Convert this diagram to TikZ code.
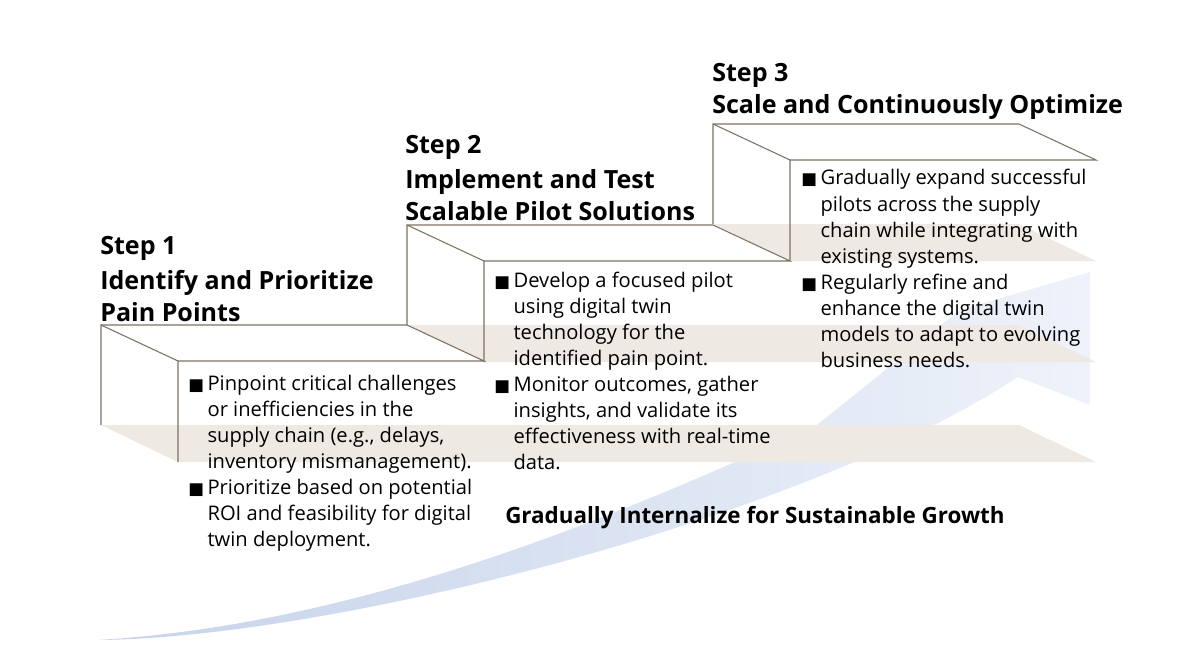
\documentclass[tikz,border=0pt]{standalone}
\usepackage{fontspec}
\setmainfont{Open Sans}
\newfontfamily\symfont{DejaVu Sans}
\usetikzlibrary{positioning}
\definecolor{edgegray}{HTML}{7D7264}
\definecolor{floorbeige}{HTML}{EEEAE3}
\definecolor{swooshdark}{HTML}{C6D3EA}
\definecolor{swooshlight}{HTML}{EEF2FA}
\newcommand{\sqbul}{\makebox[14.5pt][l]{\symfont\fontsize{12.5}{12.5}\selectfont ■}}
\newcommand{\sqind}{\hspace*{14.5pt}}
\tikzset{
  steptitle/.style={anchor=base west, inner sep=0pt, font=\bfseries\fontsize{18.8}{24}\selectfont},
  stepbody/.style={anchor=base west, inner sep=0pt, font=\fontsize{15.1}{19.6}\selectfont},
  boxline/.style={draw=edgegray, line width=0.8pt},
}
\begin{document}
\begin{tikzpicture}[x=0.75pt,y=-0.75pt]
\useasboundingbox (0,0) rectangle (1197,667);
\shade[left color=swooshdark,right color=swooshlight] (98,640) .. controls (350,625) and (600,525) .. (817,425) -- (960,310) -- (1090,272) -- (1090,405) -- (1018,377) .. controls (800,520) and (330,638) .. (98,640) -- cycle;
\foreach \x/\y in {101/325,407/225,713/124}
  \fill[floorbeige] (\x,\y+100) -- (1019,\y+100) -- (1096,\y+137) -- (\x+77,\y+137) -- cycle;
\foreach \x/\y in {101/325,407/225,713/124} {
  \draw[boxline] (\x,\y+100) -- (\x,\y) -- (\x+306,\y) -- (\x+383,\y+36) -- (\x+77,\y+36) -- (\x+77,\y+137);
  \draw[boxline] (\x,\y) -- (\x+77,\y+36);
}
\node[steptitle] (title1) at (100,254) {\begin{tabular}[t]{@{}l@{}}Step 1\\[2.6pt]Identify and Prioritize\\Pain Points\end{tabular}};
\node[steptitle] (title2) at (405,153) {\begin{tabular}[t]{@{}l@{}}Step 2\\[2.6pt]Implement and Test\\Scalable Pilot Solutions\end{tabular}};
\node[steptitle] (title3) at (712,82) {\begin{tabular}[t]{@{}l@{}}Step 3\\Scale and Continuously Optimize\end{tabular}};
\node[stepbody] (body1) at (188,390) {\begin{tabular}[t]{@{}l@{}}\sqbul Pinpoint critical challenges\\ \sqind or inefficiencies in the\\ \sqind supply chain (e.g., delays,\\ \sqind inventory mismanagement).\\ \sqbul Prioritize based on potential\\ \sqind ROI and feasibility for digital\\ \sqind twin deployment.\end{tabular}};
\node[stepbody] (body2) at (494,287) {\begin{tabular}[t]{@{}l@{}}\sqbul Develop a focused pilot\\ \sqind using digital twin\\ \sqind technology for the\\ \sqind identified pain point.\\ \sqbul Monitor outcomes, gather\\ \sqind insights, and validate its\\ \sqind effectiveness with real-time\\ \sqind data.\end{tabular}};
\node[stepbody] (body3) at (801,185) {\begin{tabular}[t]{@{}l@{}}\sqbul Gradually expand successful\\ \sqind pilots across the supply\\ \sqind chain while integrating with\\ \sqind existing systems.\\ \sqbul Regularly refine and\\ \sqind enhance the digital twin\\ \sqind models to adapt to evolving\\ \sqind business needs.\end{tabular}};
\node[anchor=base west, inner sep=0pt, font=\bfseries\fontsize{16.8}{20}\selectfont] (motto) at (505,523) {Gradually Internalize for Sustainable Growth};
\end{tikzpicture}
\end{document}
